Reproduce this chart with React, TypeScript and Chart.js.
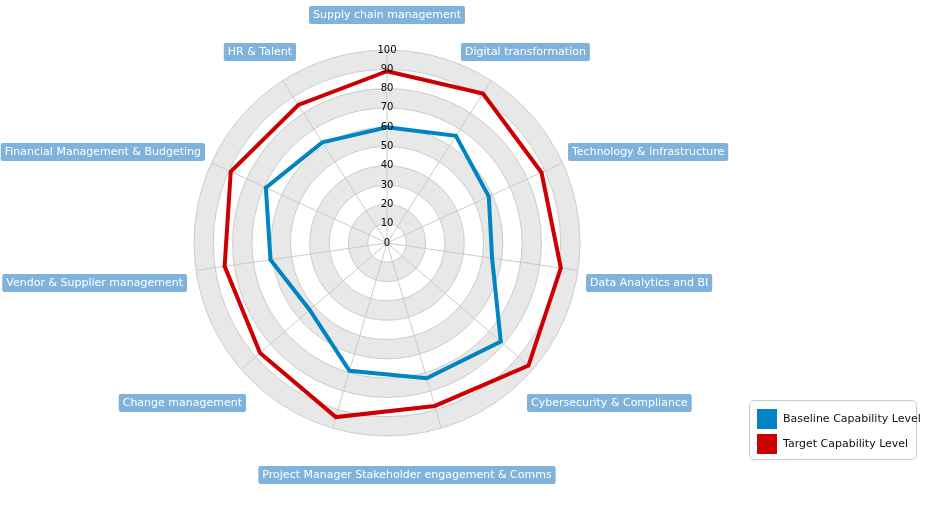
import React, { useEffect, useRef } from "react";
import { Chart, registerables } from "chart.js";
Chart.register(...registerables);

const categories = [
  "Supply chain management",
  "Digital transformation",
  "Technology & infrastructure",
  "Data Analytics and BI",
  "Cybersecurity & Compliance",
  "Project Manager Stakeholder engagement & Comms",
  "",
  "Change management",
  "Vendor & Supplier management",
  "Financial Management & Budgeting",
  "HR & Talent",
];
const baseline = [60, 66, 58, 55, 78, 73, 69, 53, 61, 69, 62];
const target = [89, 92, 88, 91, 97, 88, 94, 87, 85, 89, 85];
const seriesNames = ["Baseline Capability Level", "Target Capability Level"];
const colors = ["#0084c2", "#cc0000"];

// label anchor: [dx from center, dy from center, align]
const labelAnchors: [number, number, string][] = [
  [0, -228, "center"],
  [74, -191, "left"],
  [181, -91, "left"],
  [199, 40, "left"],
  [140, 160, "left"],
  [20, 232, "center"],
  [0, 0, "none"],
  [-141, 160, "right"],
  [-200, 40, "right"],
  [-182, -91, "right"],
  [-91, -191, "right"],
];

const ringPlugin = {
  id: "rings",
  beforeDraw(chart: any) {
    const s = chart.scales.r;
    const ctx = chart.ctx;
    ctx.save();
    for (let v = 100; v > 0; v -= 10) {
      const r = s.getDistanceFromCenterForValue(v);
      ctx.beginPath();
      ctx.arc(s.xCenter, s.yCenter, r, 0, Math.PI * 2);
      ctx.fillStyle = (v / 10) % 2 === 0 ? "#e8e8e8" : "#ffffff";
      ctx.fill();
    }
    ctx.restore();
  },
  afterDraw(chart: any) {
    const s = chart.scales.r;
    const ctx = chart.ctx;
    ctx.save();
    ctx.font = "10px 'DejaVu Sans'";
    ctx.fillStyle = "#000";
    ctx.textAlign = "center";
    ctx.textBaseline = "middle";
    ctx.fillText("0", s.xCenter, s.yCenter);
    ctx.font = "11px 'DejaVu Sans'";
    categories.forEach((lab, i) => {
      const a = labelAnchors[i];
      if (!lab || a[2] === "none") return;
      const w = ctx.measureText(lab).width + 8;
      const h = 18;
      const cx = s.xCenter + a[0];
      const cy = s.yCenter + a[1];
      const x0 = a[2] === "left" ? cx : a[2] === "right" ? cx - w : cx - w / 2;
      ctx.fillStyle = "#80b3dc";
      ctx.beginPath();
      (ctx as any).roundRect(x0, cy - h / 2, w, h, 2);
      ctx.fill();
      ctx.fillStyle = "#fff";
      ctx.textAlign = "left";
      ctx.fillText(lab, x0 + 4, cy + 0.5);
    });
    ctx.restore();
  },
};

export default function App() {
  const ref = useRef<HTMLCanvasElement>(null);
  useEffect(() => {
    const chart = new Chart(ref.current!, {
      type: "radar",
      data: {
        labels: categories,
        datasets: [baseline, target].map((d, i) => ({
          label: seriesNames[i],
          data: d,
          borderColor: colors[i],
          backgroundColor: "transparent",
          borderWidth: 4,
          pointRadius: 0,
          fill: false,
        })),
      },
      options: {
        animation: false,
        responsive: false,
        layout: { padding: { top: 43, bottom: 66, left: 187, right: 187 } },
        plugins: { legend: { display: false }, tooltip: { enabled: false } },
        scales: {
          r: {
            min: 0,
            max: 100,
            beginAtZero: true,
            ticks: {
              stepSize: 10,
              color: "#000",
              showLabelBackdrop: false,
              font: { family: "DejaVu Sans", size: 10 },
              z: 1,
            },
            grid: { circular: true, color: "#cccccc" },
            angleLines: { color: "#cccccc" },
            pointLabels: { display: false },
          },
        },
      },
      plugins: [ringPlugin],
    } as any);
    return () => chart.destroy();
  }, []);
  return (
    <div style={{ position: "fixed", left: 0, top: 0, width: 929, height: 509, background: "#fff", fontFamily: "DejaVu Sans" }}>
      <canvas ref={ref} width={774} height={509} style={{ position: "absolute", left: 0, top: 0 }} />
      <div style={{ position: "absolute", left: 749, top: 400, width: 168, height: 60, border: "1px solid #ccc", borderRadius: 5, boxSizing: "border-box", padding: "5px 0 0 7px", fontSize: 11, whiteSpace: "nowrap" }}>
        {seriesNames.map((n, i) => (
          <div key={n} style={{ display: "flex", alignItems: "center", height: 25 }}>
            <span style={{ width: 20, height: 20, background: colors[i], display: "inline-block", marginRight: 6, flex: "none" }} />
            <span style={{ color: "#111" }}>{n}</span>
          </div>
        ))}
      </div>
    </div>
  );
}
